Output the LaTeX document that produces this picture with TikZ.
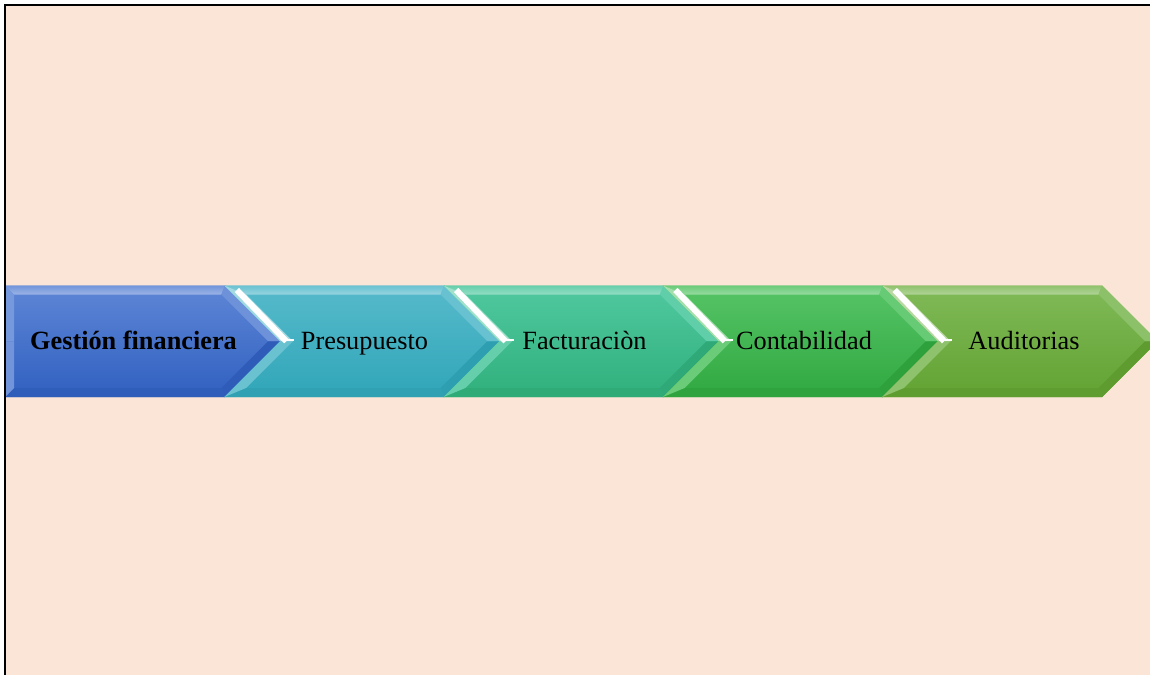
\documentclass[tikz,border=0pt]{standalone}
\usepackage{fontspec}
\setmainfont{Liberation Serif}
\definecolor{peach}{HTML}{FBE5D6}
\definecolor{cAt}{HTML}{5E86D6}\definecolor{cAb}{HTML}{3060C0}
\definecolor{cBt}{HTML}{56BACB}\definecolor{cBb}{HTML}{30A6B8}
\definecolor{cCt}{HTML}{50C8A0}\definecolor{cCb}{HTML}{30B07C}
\definecolor{cDt}{HTML}{56C466}\definecolor{cDb}{HTML}{30A840}
\definecolor{cEt}{HTML}{80BA58}\definecolor{cEb}{HTML}{62A232}
\newcommand{\mychev}[4]{%
\begin{scope}[shift={(#1,0)}]
 \ifnum#4=1
  \def\nx{55.75}\def\ix{21.7}\def\inx{68.5}
 \else
  \def\nx{0}\def\ix{9}\def\inx{9}
 \fi
 \shade[top color=#2, bottom color=#3] (0,285.5) -- (220,285.5) -- (275.75,341.25) -- (220,397) -- (0,397) -- (\nx,341.25) -- cycle;
 % top facet
 \shade[top color=#2!88!white, bottom color=#2!62!white] (0,285.5) -- (220,285.5) -- (216.3,294.5) -- (\ix,294.5) -- cycle;
 % upper right facet
 \fill[#2!90!white] (220,285.5) -- (275.75,341.25) -- (263,341.25) -- (216.3,294.5) -- cycle;
 % lower right facet
 \fill[#3!96!black] (275.75,341.25) -- (220,397) -- (216.3,388) -- (263,341.25) -- cycle;
 % bottom facet
 \fill[#3!97!black] (220,397) -- (0,397) -- (\ix,388) -- (216.3,388) -- cycle;
 % lower left facet
 \fill[#2!88!white] (\nx,341.25) -- (0,397) -- (\ix,388) -- (\inx,341.25) -- cycle;
 % upper left facet
 \ifnum#4=1
  \fill[#2!55!white] (0,285.5) -- (\nx,341.25) -- (\inx,341.25) -- (\ix,294.5) -- cycle;
  \draw[white, line width=6bp, line cap=butt] (12.5,290) -- (62,341.25);
  \draw[white, line width=2.5bp] (57,340.2) -- (70,340.2);
 \else
  \fill[#2!85!white] (0,285.5) -- (\nx,341.25) -- (\inx,341.25) -- (\ix,294.5) -- cycle;
 \fi
\end{scope}}
\tikzset{lbl/.style={inner sep=0pt, anchor=base, font=\fontsize{26.3bp}{30bp}\selectfont, text=black}}
\begin{document}
\begin{tikzpicture}[x=1bp,y=-1bp]
\useasboundingbox (0,0) rectangle (1150,675);
\clip (0,0) rectangle (1150,675);
\fill[white] (0,0) rectangle (1150,675);
\fill[peach] (5,5) rectangle (1150,675);
\mychev{5}{cAt}{cAb}{0}
\mychev{224.3}{cBt}{cBb}{1}
\mychev{443.6}{cCt}{cCb}{1}
\mychev{662.9}{cDt}{cDb}{1}
\mychev{882.2}{cEt}{cEb}{1}
\node[lbl] (t1) at (133.5,349) {\textbf{Gestión financiera}};
\node[lbl] (t2) at (364.5,349) {Presupuesto};
\node[lbl] (t3) at (584.5,349) {Facturaciòn};
\node[lbl] (t4) at (804,349) {Contabilidad};
\node[lbl] (t5) at (1024,349) {Auditorias};
\draw[line width=2.2bp] (5,676) -- (5,5) -- (1151,5);
\end{tikzpicture}
\end{document}
